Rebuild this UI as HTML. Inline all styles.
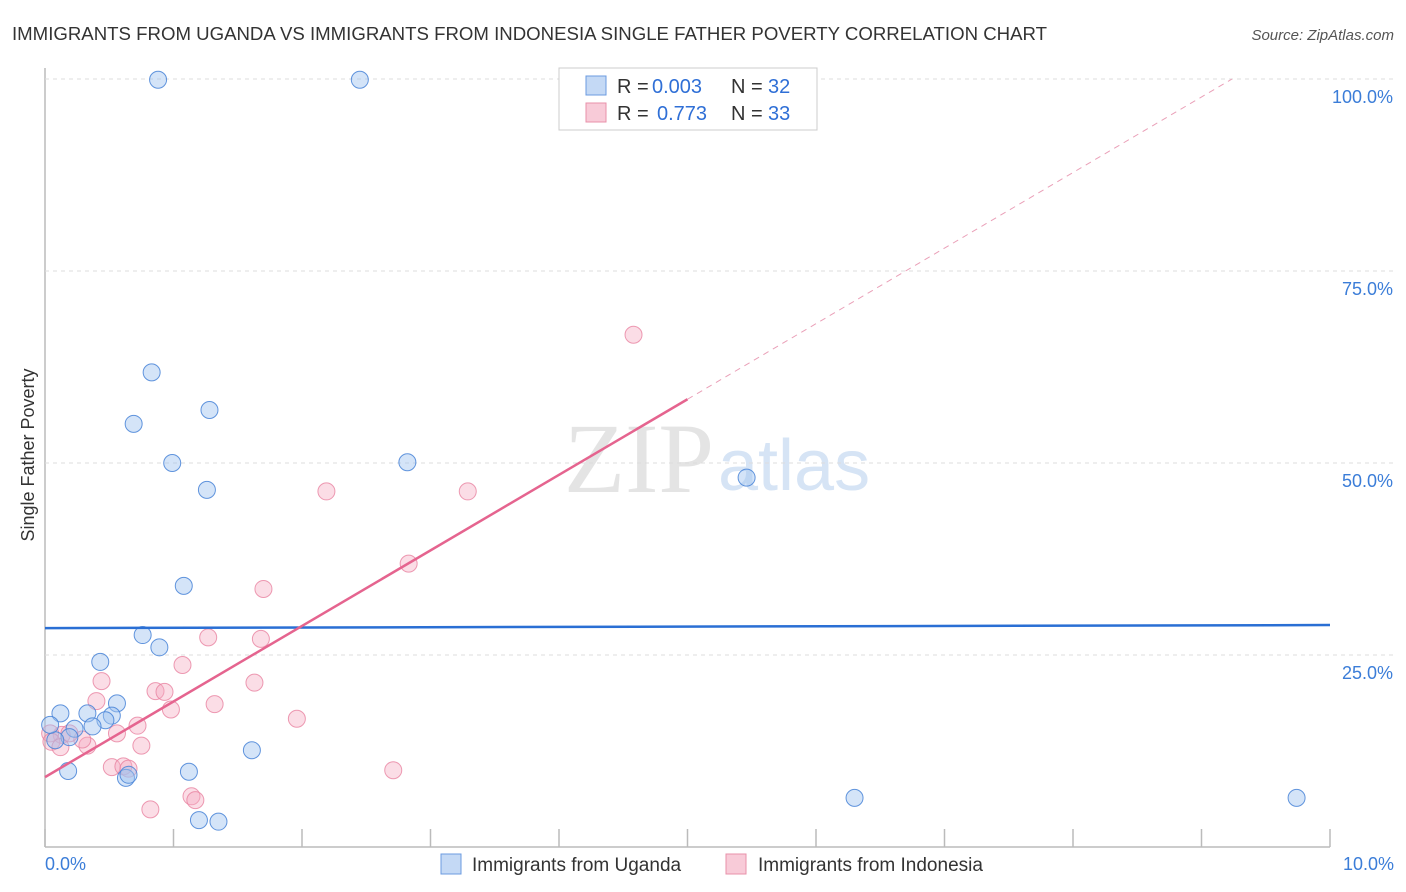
<!DOCTYPE html>
<html><head><meta charset="utf-8">
<style>
body{margin:0;background:#fff;font-family:"Liberation Sans",sans-serif;}
svg{display:block}
</style></head>
<body>
<svg id="chart" width="1406" height="892" xmlns="http://www.w3.org/2000/svg">
<text x="12" y="40" font-size="18" fill="#333" textLength="1035" lengthAdjust="spacingAndGlyphs">IMMIGRANTS FROM UGANDA VS IMMIGRANTS FROM INDONESIA SINGLE FATHER POVERTY CORRELATION CHART</text>
<text x="1394" y="40" font-size="15" fill="#555" font-style="italic" text-anchor="end">Source: ZipAtlas.com</text>
<text x="34" y="455" font-size="18" fill="#333" text-anchor="middle" transform="rotate(-90 34 455)">Single Father Poverty</text>
<text x="714" y="492" font-size="100" fill="#e4e4e4" text-anchor="end" font-family="Liberation Serif,serif">ZIP</text>
<text x="718" y="490" font-size="72" fill="#d6e4f5">atlas</text>
<g id="grid"></g><g id="pts"></g><g id="lines"></g>
<g>
<rect x="559" y="68" width="258" height="62" fill="#fff" stroke="#ccc"/>
<rect x="586" y="76" width="20" height="19" fill="#c4d9f5" stroke="#6b9be0"/>
<text x="617" y="93" font-size="20" fill="#333">R =</text>
<text x="652" y="93" font-size="20" fill="#2f6fd6">0.003</text>
<text x="731" y="93" font-size="20" fill="#333">N =</text>
<text x="768" y="93" font-size="20" fill="#2f6fd6">32</text>
<rect x="586" y="103" width="20" height="19" fill="#f8cbd8" stroke="#e890aa"/>
<text x="617" y="120" font-size="20" fill="#333">R =</text>
<text x="657" y="120" font-size="20" fill="#2f6fd6">0.773</text>
<text x="731" y="120" font-size="20" fill="#333">N =</text>
<text x="768" y="120" font-size="20" fill="#2f6fd6">33</text>
</g>
<g>
<rect x="441" y="854" width="20" height="20" fill="#c4d9f5" stroke="#6b9be0"/>
<text x="472" y="871" font-size="19" fill="#333">Immigrants from Uganda</text>
<rect x="726" y="854" width="20" height="20" fill="#f8cbd8" stroke="#e890aa"/>
<text x="758" y="871" font-size="19" fill="#333">Immigrants from Indonesia</text>
</g>
</svg>
<script>
const yTicks=[25,50,75,100];
const yTickLabels=["25.0%","50.0%","75.0%","100.0%"];
const xTickVals=[0,1,2,3,4,5,6,7,8,9,10];
const ugandaX=[0.88,2.45,0.83,0.69,1.28,0.99,2.82,1.26,5.46,1.08,0.76,0.89,0.43,0.12,0.33,0.56,0.52,0.47,0.37,0.23,0.19,0.08,0.04,0.18,0.63,0.65,1.12,1.61,1.198,1.35,6.30,9.74];
const ugandaY=[99.9,99.9,61.8,55.1,56.9,50.0,50.1,46.5,48.1,34.0,27.6,26.0,24.1,17.4,17.4,18.7,17.1,16.5,15.7,15.4,14.3,13.9,15.9,9.9,9.0,9.4,9.8,12.6,3.5,3.3,6.4,6.4];
const indoX=[4.58,2.19,3.29,2.83,1.70,1.27,1.68,1.07,1.63,0.44,0.40,0.86,0.93,1.32,0.98,1.96,0.72,0.56,0.33,0.75,0.29,0.13,0.52,0.61,0.65,2.71,1.14,1.17,0.82,0.04,0.05,0.19,0.12];
const indoY=[66.7,46.3,46.3,36.9,33.6,27.3,27.1,23.7,21.4,21.6,19.0,20.3,20.2,18.6,17.9,16.7,15.8,14.8,13.2,13.2,14.0,14.6,10.4,10.5,10.2,10.0,6.6,6.1,4.9,14.8,13.7,14.8,13.0];
const ugandaTrend=[28.5,28.9];
const indoTrend=[9.1,9.84];
const X=v=>45+v*128.5, Y=v=>847-v*7.68;
const NS="http://www.w3.org/2000/svg";
function mk(tag,attrs,parent){const e=document.createElementNS(NS,tag);for(const k in attrs)e.setAttribute(k,attrs[k]);parent.appendChild(e);return e;}
const grid=document.getElementById('grid');
mk('line',{x1:45,y1:68,x2:45,y2:847,stroke:'#bbb','stroke-width':1.5},grid);
mk('line',{x1:45,y1:847,x2:1330,y2:847,stroke:'#bbb','stroke-width':1.5},grid);
yTicks.forEach((t,i)=>{
 const l=mk('line',{x1:45,y1:Y(t),x2:1394,y2:Y(t),stroke:'#ddd','stroke-dasharray':'4,4'},grid);
 
 
 const tx=mk('text',{x:1393,y:Y(t)+24,'font-size':18,fill:'#3b7dd8','text-anchor':'end'},grid);
 tx.textContent=yTickLabels[i];
 
 
});
xTickVals.forEach(t=>{
 const l=mk('line',{x1:X(t),y1:829,x2:X(t),y2:847,stroke:'#bbb','stroke-width':1.5},grid);
 
 
});
const xl0=mk('text',{x:45,y:870,'font-size':18,fill:'#3b7dd8'},grid);xl0.textContent='0.0%';


const xl1=mk('text',{x:1394,y:870,'font-size':18,fill:'#3b7dd8','text-anchor':'end'},grid);xl1.textContent='10.0%';


const pts=document.getElementById('pts');
indoX.forEach((x,i)=>{
 const c=mk('circle',{cx:X(x),cy:Y(indoY[i]),r:8.5,fill:'rgba(246,170,192,0.4)',stroke:'rgba(232,130,160,0.8)','stroke-width':1},pts);
 
 
});
ugandaX.forEach((x,i)=>{
 const c=mk('circle',{cx:X(x),cy:Y(ugandaY[i]),r:8.5,fill:'rgba(160,196,240,0.45)',stroke:'rgba(70,130,215,0.85)','stroke-width':1},pts);
 
 
});
const lines=document.getElementById('lines');
const bl=mk('line',{x1:X(0),y1:Y(ugandaTrend[0]),x2:X(10),y2:Y(ugandaTrend[1]),stroke:'#2a6fd4','stroke-width':2.5},lines);


const pl=mk('line',{x1:X(0),y1:Y(indoTrend[0]),x2:X(5),y2:Y(indoTrend[0]+indoTrend[1]*5),stroke:'#e5648f','stroke-width':2.5},lines);


const xe=(100-indoTrend[0])/indoTrend[1];
const pd=mk('line',{x1:X(5),y1:Y(indoTrend[0]+indoTrend[1]*5),x2:X(xe),y2:Y(100),stroke:'#eaa0b8','stroke-width':1,'stroke-dasharray':'6,5'},lines);


</script>
</body></html>
